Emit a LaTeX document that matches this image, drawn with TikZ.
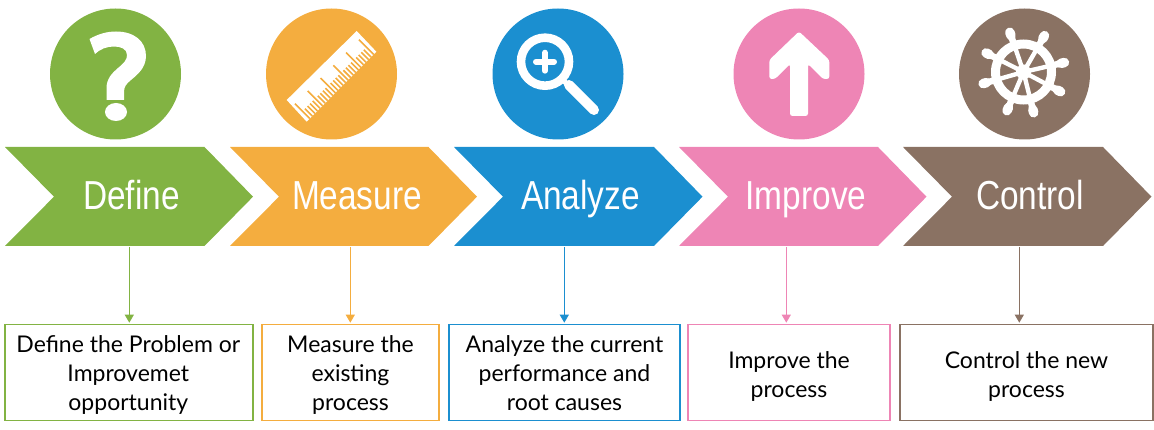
\documentclass[tikz,border=0pt]{standalone}
\usepackage{fontspec}
\usetikzlibrary{arrows.meta}
\setmainfont{Lato}
\newfontfamily\titlefont[FakeStretch=0.825]{Liberation Sans}
\definecolor{cgreen}{HTML}{82B343}
\definecolor{corange}{HTML}{F4AD3F}
\definecolor{cblue}{HTML}{1B8FD0}
\definecolor{cpink}{HTML}{EE85B5}
\definecolor{cbrown}{HTML}{8A7263}
\tikzset{
  x=1pt,y=-1pt,
  disc/.style={circle,fill=#1,draw=none,inner sep=0pt,minimum size=131pt},
  chev/.style={fill=#1,draw=none},
  title/.style={text=white,font=\titlefont\fontsize{40.5}{40.5}\selectfont,inner sep=0pt,anchor=base},
  infobox/.style={draw=#1,line width=1.1pt,inner sep=0pt,minimum height=96.5pt},
  infotext/.style={inner sep=0pt,align=center,text=black,font=\fontsize{23}{29}\selectfont},
  link/.style={draw=#1,line width=1pt,-{Triangle[length=8pt,width=9pt,fill=#1]},shorten >=1pt},
  iconw/.style={fill=white,draw=none}
}
\newcommand{\chevshape}[3]{%
  \fill[chev=#1] (#2,147) -- (#3,147) -- ++(48.5,49.7) -- (#3,246) -- (#2,246) -- ++(49,-49.3) -- cycle;}
\begin{document}
\begin{tikzpicture}
\useasboundingbox (0,0) rectangle (1154,430);
% discs
\node[disc=cgreen] (dD) at (115.5,74) {};
\node[disc=corange] (dM) at (331.5,74) {};
\node[disc=cblue] (dA) at (558,74) {};
\node[disc=cpink] (dI) at (799,74) {};
\node[disc=cbrown] (dC) at (1024.5,74) {};
% question mark
\fill[iconw] (89.5,39) .. controls (98,34) and (107,31.5) .. (116,31.5)
  .. controls (134,31.5) and (146,41) .. (146,56)
  .. controls (146,68) and (137,75) .. (131,80)
  .. controls (126,84) and (124,87) .. (124,92) -- (124,100) -- (106.5,100) -- (106.5,88)
  .. controls (106.5,79) and (112,73) .. (118,68)
  .. controls (124,63) and (127,60) .. (127,55)
  .. controls (127,49) and (121,46.5) .. (114,46.5)
  .. controls (107,46.5) and (100,49) .. (95,54) -- cycle;
\fill[iconw] (116,112) ellipse [x radius=11, y radius=9];
% ruler
\fill[iconw] (356.7,31) -- (376.3,51.7) -- (306.7,121.7) -- (286.7,100) -- cycle;
\foreach \i in {0,...,25}{
  \pgfmathsetmacro{\bx}{309.8+\i*2.56}
  \pgfmathsetmacro{\by}{118.6-\i*2.56}
  \pgfmathtruncatemacro{\m}{mod(\i,5)}
  \pgfmathsetmacro{\L}{\m==0 ? 21 : 10.5}
  \draw[corange,line width=1.6pt] (\bx,\by) -- ++(-\L*0.707,-\L*0.707);
}
% magnifier
\draw[white,line width=8.6pt] (545,61.7) circle [radius=24];
\draw[white,line width=5pt] (564,81) -- (570,87);
\draw[white,line width=10pt,line cap=round] (569,85) -- (594,110);
\draw[white,line width=6pt,line cap=round] (536,61.7) -- (554,61.7);
\draw[white,line width=6pt,line cap=round] (545,52.7) -- (545,70.7);
% up arrow
\fill[iconw,rounded corners=2.5pt] (799,31.5) -- (829.3,60) -- (829.3,79) -- (823,79) -- (808,64) -- (808,116) -- (790,116) -- (790,64) -- (775,79) -- (769.3,79) -- (769.3,60) -- cycle;
% helm
\begin{scope}[shift={(1023.5,72)}]
  \draw[white,line width=9pt] (0,0) circle [radius=28];
  \fill[white] (0,0) circle [radius=7.5];
  \foreach \a in {109,60,13,-28,-76,-113,-164,153}{
    \draw[white,line width=4.4pt] (0,0) -- (-\a:28);
    \draw[white,line width=6.5pt] (-\a:28) -- (-\a:39);
    \draw[white,line width=9.5pt,line cap=round] (-\a:38.5) -- (-\a:42);
  }
\end{scope}
% chevrons
\chevshape{cgreen}{5}{204.5}
\chevshape{corange}{230}{428.5}
\chevshape{cblue}{454}{654}
\chevshape{cpink}{679}{878}
\chevshape{cbrown}{903}{1103}
\node[title] (tD) at (131.5,210) {Define};
\node[title] (tM) at (357,210) {Measure};
\node[title] (tA) at (580.5,210) {Analyze};
\node[title] (tI) at (806,210) {Improve};
\node[title] (tC) at (1030,210) {Control};
% boxes
\node[infobox=cgreen,minimum width=248pt] (bD) at (129,372.5) {};
\node[infobox=corange,minimum width=177pt] (bM) at (350.5,372.5) {};
\node[infobox=cblue,minimum width=231pt] (bA) at (564.5,372.5) {};
\node[infobox=cpink,minimum width=202pt] (bI) at (789,372.5) {};
\node[infobox=cbrown,minimum width=253pt] (bC) at (1026.5,372.5) {};
\node[infotext] (xD) at (128.3,375) {Define the Problem or\\Improvemet\\opportunity};
\node[infotext] (xM) at (350.5,375) {Measure the\\existing\\process};
\node[infotext] (xA) at (564.5,373) {Analyze the current\\performance and\\root causes};
\node[infotext] (xI) at (789,377) {Improve the\\process};
\node[infotext] (xC) at (1026.5,377) {Control the new\\process};
% connector sources
\coordinate (sD) at (129.3,247);
\coordinate (sM) at (350.3,247);
\coordinate (sA) at (564.3,247);
\coordinate (sI) at (786.3,247);
\coordinate (sC) at (1019.3,247);
\draw[link=cgreen] (sD) -- (sD |- bD.north);
\draw[link=corange] (sM) -- (sM |- bM.north);
\draw[link=cblue] (sA) -- (sA |- bA.north);
\draw[link=cpink] (sI) -- (sI |- bI.north);
\draw[link=cbrown] (sC) -- (sC |- bC.north);
\end{tikzpicture}
\end{document}
